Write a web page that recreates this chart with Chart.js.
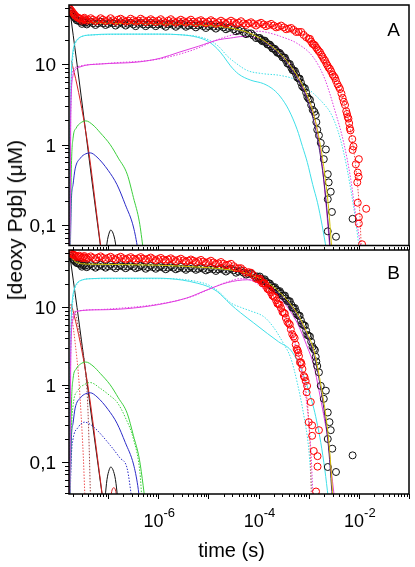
<!DOCTYPE html>
<html>
<head>
<meta charset="utf-8">
<script src="https://cdn.jsdelivr.net/npm/chart.js@4.4.0/dist/chart.umd.min.js"></script>
<style>
  html, body { margin: 0; padding: 0; background: #fff; }
  #wrap { position: relative; width: 415px; height: 567px; overflow: hidden; }
  canvas { position: absolute; left: 0; }
  #chartA { top: 0; }
  #chartB { top: 245px; }
  #ytitle {
    position: absolute; left: 15px; top: 220px;
    transform: translate(-50%, -50%) rotate(-90deg);
    font: 21px "Liberation Sans", Arial, sans-serif;
    white-space: nowrap; color: #000;
  }
</style>
</head>
<body>
<div id="wrap">
  <canvas id="chartA" width="415" height="250"></canvas>
  <canvas id="chartB" width="415" height="322"></canvas>
  <div id="ytitle">[deoxy Pgb] (μM)</div>
</div>
<script>
// axis ranges and tick labels
const xMin = 1.66e-8, xMax = 0.1;
const yLimA = [0.056, 54];
const yLimB = [0.039, 55];
const yTickValues = [0.1, 1, 10];
const yTickLabels = ["0,1", "1", "10"];
const xTickValues = [1e-6, 1e-4, 1e-2];
const xTickExp = ["-6", "-4", "-2"];

// ---- panel A, data points [time, conc]
const redA = [[1.7e-8,49],[1.8e-8,47],[2.0e-8,43],[2.2e-8,40],[2.5e-8,37.5],[2.8e-8,36.5],[3.2e-8,36],[3.5e-8,36],[4e-8,35.5],[5e-8,35.5],[6.3e-8,35],[7.9e-8,35.5],[1e-7,35],[1.26e-7,35],[1.58e-7,35.5],[2e-7,35],[2.5e-7,34.5],[3.2e-7,35],[4e-7,34.5],[5e-7,35],[6.3e-7,34.5],[7.9e-7,34.5],[1e-6,34.5],[1.26e-6,34],[1.58e-6,34.5],[2e-6,34],[2.5e-6,34],[3.2e-6,34],[4e-6,34],[5e-6,33.5],[6.3e-6,34],[7.9e-6,33.5],[1e-5,33.5],[1.26e-5,33.5],[1.58e-5,33],[2e-5,33],[2.5e-5,33],[3.2e-5,33],[4e-5,32.5],[5e-5,32],[6.3e-5,32],[7.9e-5,31.5],[1e-4,31.5],[1.26e-4,31],[1.58e-4,30.5],[2e-4,30],[2.5e-4,29],[3.2e-4,28.5],[4e-4,27.5],[5e-4,26.5],[6.3e-4,25],[7.9e-4,23],[1e-3,20.5],[1.12e-3,19],[1.26e-3,17.5],[1.41e-3,16],[1.58e-3,14.5],[1.78e-3,13],[2e-3,11.5],[2.24e-3,10.2],[2.5e-3,9],[2.8e-3,8.1],[3.2e-3,7],[3.5e-3,6.2],[4e-3,5.2],[4.5e-3,4.3],[5e-3,3.4],[5.6e-3,2.6],[6e-3,2.2],[6.4e-3,1.85],[6.8e-3,1.5],[7.4e-3,1.17],[7.8e-3,0.95],[7.5e-3,0.86],[1.0e-2,0.66],[8.7e-3,0.57],[9.5e-3,0.45],[9.9e-3,0.4],[9.3e-3,0.34],[9.5e-3,0.19],[1.4e-2,0.16],[1.0e-2,0.126],[1.0e-2,0.105],[1.16e-2,0.058]];
const redAMid = [[1.9e-8,45],[2.1e-8,41.5],[2.35e-8,38.5],[2.65e-8,37],[3.0e-8,34.5],[3.35e-8,37.5],[3.75e-8,34.5],[4.5e-8,37],[5.6e-8,34],[7.1e-8,37],[8.9e-8,34],[1.12e-7,37],[1.41e-7,33.5],[1.78e-7,36.5],[2.24e-7,33.5],[2.82e-7,36.5],[3.55e-7,33.5],[4.47e-7,36.5],[5.62e-7,33],[7.08e-7,36],[8.91e-7,33],[1.12e-6,36],[1.41e-6,32.5],[1.78e-6,36],[2.24e-6,32.5],[2.82e-6,35.5],[3.55e-6,32.5],[4.47e-6,35.5],[5.62e-6,32],[7.08e-6,35],[8.91e-6,32],[1.12e-5,35],[1.41e-5,31.5],[1.78e-5,34.5],[2.24e-5,31.5],[2.82e-5,34.5],[3.55e-5,31.5],[4.47e-5,34],[5.62e-5,30.5],[7.08e-5,33],[8.91e-5,30],[1.12e-4,32.5],[1.41e-4,29.5],[1.78e-4,31.5],[2.24e-4,28.5],[2.82e-4,30],[3.55e-4,27],[4.47e-4,28],[5.62e-4,25],[7.08e-4,25],[8.91e-4,21.5],[1.06e-3,20.5],[1.19e-3,17.8],[1.33e-3,17],[1.5e-3,15.2],[1.68e-3,14],[1.89e-3,12.3],[2.12e-3,11],[2.37e-3,9.6],[2.65e-3,8.7],[3.0e-3,7.4],[3.35e-3,6.7],[3.75e-3,5.6],[4.2e-3,4.9],[4.75e-3,3.8],[5.3e-3,3.1],[5.8e-3,2.4],[6.2e-3,2.1],[6.6e-3,1.6]];
const blackA = [[1.7e-8,46],[1.8e-8,44],[2.0e-8,40],[2.2e-8,37],[2.5e-8,34.5],[2.8e-8,33.5],[3.2e-8,33],[3.5e-8,32.5],[4e-8,32.5],[5e-8,32],[6.3e-8,32],[7.9e-8,32],[1e-7,31.5],[1.26e-7,32],[1.58e-7,31.5],[2e-7,31.5],[2.5e-7,31.5],[3.2e-7,31],[4e-7,31.5],[5e-7,31],[6.3e-7,31],[7.9e-7,31],[1e-6,31],[1.26e-6,30.5],[1.58e-6,31],[2e-6,30.5],[2.5e-6,30.5],[3.2e-6,30.5],[4e-6,30],[5e-6,30],[6.3e-6,30],[7.9e-6,29.5],[1e-5,29.5],[1.26e-5,29],[1.58e-5,29],[2e-5,28.5],[2.5e-5,28],[3.2e-5,27],[4e-5,26],[5e-5,25],[6.3e-5,24],[7.9e-5,22.5],[1e-4,21],[1.12e-4,20],[1.26e-4,19.4],[1.41e-4,18.5],[1.58e-4,17.5],[1.78e-4,16.5],[2e-4,15.5],[2.24e-4,14.5],[2.5e-4,13.8],[2.8e-4,13],[3.2e-4,12],[3.5e-4,11.2],[4e-4,10],[4.5e-4,9],[5e-4,8.3],[5.6e-4,7.5],[6.3e-4,6.6],[7e-4,5.9],[7.9e-4,5.1],[8.9e-4,4.4],[1e-3,3.7],[1.12e-3,3.1],[1.2e-3,2.7],[1.38e-3,2.33],[1.48e-3,1.53],[1.74e-3,1.05],[2.2e-3,0.87],[2.0e-3,0.66],[2.4e-3,0.43],[2.5e-3,0.34],[2.75e-3,0.26],[2.4e-3,0.21],[2.9e-3,0.146],[2.4e-3,0.084],[3.5e-3,0.072],[7.5e-3,0.12]];
const blackAMid = [[1.9e-8,42],[2.1e-8,38.5],[2.35e-8,35],[2.65e-8,34.5],[3.0e-8,31.5],[3.35e-8,34],[3.75e-8,31],[4.5e-8,33.5],[5.6e-8,30.5],[7.1e-8,33.5],[8.9e-8,30.5],[1.12e-7,33],[1.41e-7,30],[1.78e-7,33],[2.24e-7,30],[2.82e-7,32.5],[3.55e-7,29.5],[4.47e-7,32.5],[5.62e-7,29.5],[7.08e-7,32.5],[8.91e-7,29.5],[1.12e-6,32],[1.41e-6,29],[1.78e-6,32],[2.24e-6,29],[2.82e-6,32],[3.55e-6,29],[4.47e-6,31.5],[5.62e-6,28.5],[7.08e-6,31],[8.91e-6,28],[1.12e-5,30.5],[1.41e-5,27.5],[1.78e-5,30],[2.24e-5,27],[2.82e-5,29],[3.55e-5,25.5],[4.47e-5,27],[5.62e-5,23.5],[7.08e-5,24],[8.91e-5,21],[1.06e-4,21],[1.19e-4,19.2],[1.33e-4,19.5],[1.5e-4,17.5],[1.68e-4,17.4],[1.89e-4,15.6],[2.12e-4,15.4],[2.37e-4,13.8],[2.65e-4,13.7],[3.0e-4,12.1],[3.35e-4,12],[3.75e-4,10.2],[4.2e-4,10],[4.75e-4,8.4],[5.3e-4,8.2],[5.9e-4,6.8],[6.6e-4,6.6],[7.4e-4,5.3],[8.4e-4,5.0],[9.4e-4,3.9],[1.06e-3,3.6],[1.3e-3,2.55],[1.42e-3,1.9],[1.6e-3,1.3]];
const yellowA = [[1.7e-8,46],[2.2e-8,37],[3e-8,33.5],[5e-8,32.5],[1e-6,31.5],[1e-5,30],[2.75e-5,28],[6.3e-5,24.5],[1.26e-4,19.6],[2.75e-4,13.3],[5e-4,8.4],[7.4e-4,5.6],[1e-3,3.7],[1.3e-3,2.2],[1.7e-3,1.0],[2.1e-3,0.42],[2.5e-3,0.16],[2.85e-3,0.056]];
const purpleA = [[1.26e-4,19],[2.75e-4,12.8],[5e-4,7.8],[7.4e-4,5.1],[1e-3,3.2],[1.3e-3,1.8],[1.7e-3,0.75],[2.1e-3,0.28],[2.5e-3,0.09],[2.7e-3,0.05]];
const redFitA = [[1.7e-8,49],[2.5e-8,37.5],[5e-8,35.5],[1e-6,34.5],[1e-5,33.5],[1e-4,31.5],[5e-4,26.5],[1e-3,20.5],[2e-3,11.5],[3.2e-3,7],[5e-3,3.4],[6.4e-3,1.85],[8e-3,0.8],[9.5e-3,0.3],[1.05e-2,0.13],[1.12e-2,0.05]];
const cyanA = [[1.72e-8,0.05],[1.76e-8,1.5],[1.8e-8,4],[1.85e-8,8],[1.95e-8,13],[2.1e-8,17],[2.4e-8,20],[3e-8,22],[5e-8,23],[1e-7,23.5],[1e-6,23.5],[3e-6,23],[6e-6,21.5],[1e-5,19],[1.5e-5,15.5],[2e-5,12.5],[2.75e-5,9.5],[4e-5,7.5],[7e-5,6.3],[1.26e-4,5.7],[2e-4,4.8],[2.75e-4,3.9],[4e-4,2.7],[5.9e-4,1.53],[7.5e-4,0.95],[9.4e-4,0.6],[1.2e-3,0.32],[1.5e-3,0.19],[1.85e-3,0.1],[2.25e-3,0.05]];
const cyanDotA = [[1.72e-8,0.05],[1.75e-8,1],[1.8e-8,3],[1.85e-8,6],[1.95e-8,11],[2.1e-8,16],[2.4e-8,19.5],[3e-8,22],[5e-8,23],[1e-6,23.5],[3e-6,23],[6e-6,22],[1e-5,20],[1.6e-5,16.5],[2.4e-5,12.5],[3.5e-5,10.3],[6e-5,8.3],[1.2e-4,7.6],[2.75e-4,7.2],[5.9e-4,6.25],[1.25e-3,4.3],[2e-3,3.2],[2.75e-3,2.45],[3.8e-3,1.5],[5e-3,0.79],[6.9e-3,0.28],[8.7e-3,0.11],[1.02e-2,0.05]];
const magA = [[1.72e-8,0.05],[1.76e-8,0.22],[1.8e-8,2],[1.85e-8,4.5],[1.95e-8,6.6],[2.1e-8,8],[2.75e-8,9.2],[7e-8,10],[4e-7,10.6],[1.1e-6,11.8],[2.6e-6,14],[6.3e-6,16.6],[1.6e-5,20],[2.75e-5,21],[5e-5,22],[8e-5,21.5],[1.26e-4,19.4],[2e-4,17],[2.75e-4,15],[4e-4,11],[5.9e-4,7.5],[8e-4,4.8],[1.25e-3,2.45],[1.74e-3,0.79],[2.2e-3,0.19],[2.65e-3,0.05]];
const magDotA = [[1.72e-8,0.05],[1.77e-8,1],[1.82e-8,4.5],[1.95e-8,8],[2.5e-8,9.3],[1e-7,10.2],[1e-6,11.5],[5e-6,15],[1.5e-5,20],[4e-5,24],[1e-4,25.5],[2e-4,23.5],[2.75e-4,22],[5.9e-4,18],[1.25e-3,12],[2.1e-3,6.5],[3.3e-3,2.7],[5e-3,1.05],[6.9e-3,0.37],[8.7e-3,0.13],[1.12e-2,0.05]];

// ---- panel B, data points [time, conc]
const redB = [[1.7e-8,51],[1.8e-8,50],[2.0e-8,48],[2.2e-8,46.5],[2.5e-8,45.5],[2.8e-8,45],[3.2e-8,44.5],[3.5e-8,44],[4e-8,44],[5e-8,43.5],[6.3e-8,44],[7.9e-8,43.5],[1e-7,43.5],[1.26e-7,43],[1.58e-7,43.5],[2e-7,43],[2.5e-7,43],[3.2e-7,42.5],[4e-7,43],[5e-7,42.5],[6.3e-7,42.5],[7.9e-7,42],[1e-6,42],[1.26e-6,41.5],[1.58e-6,41.5],[2e-6,41],[2.5e-6,41],[3.2e-6,40.5],[4e-6,40],[5e-6,40],[6.3e-6,39.5],[7.9e-6,39],[1e-5,38.5],[1.26e-5,38],[1.58e-5,37],[2e-5,36.5],[2.5e-5,35.5],[3.2e-5,34],[4e-5,32],[5e-5,30],[6.3e-5,28.5],[7.9e-5,26],[1e-4,23],[1.12e-4,22],[1.26e-4,20.5],[1.41e-4,19],[1.58e-4,17],[1.78e-4,15.5],[2e-4,13.8],[2.24e-4,12.3],[2.5e-4,11],[2.8e-4,9.8],[3.2e-4,8.5],[3.5e-4,7.3],[4e-4,6.2],[4.4e-4,5.2],[5e-4,4.2],[5.5e-4,3.3],[6e-4,2.8],[6.4e-4,2.35],[7e-4,1.95],[7.5e-4,1.6],[8.7e-4,1.12],[9.3e-4,0.97],[9.1e-4,0.8],[1.1e-3,0.6],[1.0e-3,0.33],[1.17e-3,0.3],[1.6e-3,0.26],[1.17e-3,0.22],[1.26e-3,0.14],[1.5e-3,0.12],[1.5e-3,0.088],[1.4e-3,0.042]];
const redBMid = [[1.9e-8,49],[2.1e-8,47.5],[2.35e-8,44.5],[2.65e-8,46.5],[3.0e-8,43],[3.35e-8,46],[3.75e-8,42.5],[4.5e-8,45.5],[5.6e-8,42],[7.1e-8,45.5],[8.9e-8,42],[1.12e-7,45],[1.41e-7,41.5],[1.78e-7,45],[2.24e-7,41.5],[2.82e-7,44.5],[3.55e-7,41],[4.47e-7,44.5],[5.62e-7,41],[7.08e-7,44],[8.91e-7,40.5],[1.12e-6,43.5],[1.41e-6,40],[1.78e-6,43],[2.24e-6,39.5],[2.82e-6,42.5],[3.55e-6,39],[4.47e-6,41.5],[5.62e-6,38.5],[7.08e-6,41],[8.91e-6,37.5],[1.12e-5,40],[1.41e-5,36.5],[1.78e-5,38.5],[2.24e-5,35],[2.82e-5,36.5],[3.55e-5,32],[4.47e-5,32],[5.62e-5,28],[7.08e-5,28],[8.91e-5,23.5],[1.06e-4,23.5],[1.19e-4,20.5],[1.33e-4,20.5],[1.5e-4,17.4],[1.68e-4,16.8],[1.89e-4,14.2],[2.12e-4,13.6],[2.37e-4,11.2],[2.65e-4,10.8],[3.0e-4,8.7],[3.35e-4,8.3],[3.75e-4,6.5],[4.2e-4,6.0],[4.7e-4,4.5],[5.25e-4,4.0],[5.75e-4,2.9],[6.2e-4,2.6],[6.7e-4,1.95],[7.2e-4,1.85],[8e-4,1.3],[8.3e-4,1.25]];
const blackB = [[1.7e-8,47],[1.8e-8,46],[2.0e-8,42],[2.2e-8,39],[2.5e-8,37],[2.8e-8,35.5],[3.2e-8,35],[3.5e-8,34.5],[4e-8,34.5],[5e-8,34],[6.3e-8,34],[7.9e-8,34],[1e-7,34],[1.26e-7,33.5],[1.58e-7,34],[2e-7,33.5],[2.5e-7,33.5],[3.2e-7,33.5],[4e-7,33],[5e-7,33.5],[6.3e-7,33],[7.9e-7,33],[1e-6,33],[1.26e-6,32.5],[1.58e-6,32.5],[2e-6,32.5],[2.5e-6,32],[3.2e-6,32],[4e-6,32],[5e-6,32],[6.3e-6,31.5],[7.9e-6,31.5],[1e-5,31],[1.26e-5,31],[1.58e-5,31],[2e-5,30.5],[2.5e-5,30.5],[3.2e-5,30],[4e-5,29],[5e-5,28],[6.3e-5,27],[7.9e-5,26],[9.5e-5,25],[1.12e-4,23.5],[1.26e-4,22.5],[1.41e-4,21.5],[1.58e-4,20.5],[1.78e-4,19],[2e-4,18],[2.24e-4,17],[2.5e-4,16],[2.75e-4,15.3],[3.2e-4,14],[3.5e-4,13],[4e-4,12],[4.5e-4,10.8],[5e-4,9.8],[5.6e-4,8.8],[6.3e-4,7.8],[7e-4,6.8],[7.9e-4,5.9],[8.9e-4,5],[1e-3,4.3],[1.12e-3,3.6],[1.27e-3,2.9],[1.38e-3,2.3],[1.48e-3,1.75],[1.74e-3,0.97],[2.2e-3,0.84],[2.0e-3,0.66],[2.4e-3,0.44],[2.6e-3,0.33],[2.75e-3,0.26],[2.4e-3,0.2],[2.95e-3,0.15],[2.4e-3,0.087],[3.5e-3,0.075],[7.5e-3,0.123]];
const blackBMid = [[1.9e-8,44],[2.1e-8,40.5],[2.35e-8,37.5],[2.65e-8,37],[3.0e-8,33.5],[3.35e-8,36.5],[3.75e-8,33],[4.5e-8,36],[5.6e-8,32.5],[7.1e-8,35.5],[8.9e-8,32.5],[1.12e-7,35.5],[1.41e-7,32],[1.78e-7,35],[2.24e-7,32],[2.82e-7,35],[3.55e-7,32],[4.47e-7,34.5],[5.62e-7,31.5],[7.08e-7,34.5],[8.91e-7,31.5],[1.12e-6,34],[1.41e-6,31],[1.78e-6,34],[2.24e-6,31],[2.82e-6,33.5],[3.55e-6,30.5],[4.47e-6,33.5],[5.62e-6,30.5],[7.08e-6,33],[8.91e-6,30],[1.12e-5,32.5],[1.41e-5,29.5],[1.78e-5,32],[2.24e-5,29],[2.82e-5,31.5],[3.55e-5,28],[4.47e-5,30],[5.62e-5,26.5],[7.08e-5,27.5],[8.91e-5,24.5],[1.06e-4,25],[1.19e-4,22],[1.33e-4,23],[1.5e-4,20.2],[1.68e-4,20.3],[1.89e-4,18],[2.12e-4,18.2],[2.37e-4,16],[2.65e-4,16.2],[3.0e-4,14.1],[3.35e-4,14.2],[3.75e-4,12.1],[4.2e-4,12],[4.75e-4,9.9],[5.3e-4,9.8],[5.9e-4,8.1],[6.6e-4,7.8],[7.4e-4,6.1],[8.4e-4,5.8],[9.4e-4,4.4],[1.06e-3,4.2],[1.19e-3,3.1],[1.33e-3,2.8],[1.42e-3,2.0],[1.6e-3,1.45]];
const yellowB = [[1.7e-8,47],[2.2e-8,39],[3e-8,36.5],[5e-8,36],[1e-6,35],[1e-5,32.5],[2.75e-5,30.5],[6.3e-5,27],[1.26e-4,22.5],[2.75e-4,15.3],[5.9e-4,8.3],[9.4e-4,4.6],[1.27e-3,2.8],[1.5e-3,1.7],[1.8e-3,0.9],[2.2e-3,0.4],[2.6e-3,0.15],[3.05e-3,0.035]];
const purpleB = [[1.26e-4,21],[2.75e-4,14.3],[5.9e-4,7.8],[9.4e-4,4.2],[1.27e-3,2.4],[1.6e-3,1.2],[2e-3,0.5],[2.5e-3,0.15],[2.95e-3,0.035]];
const redFitB = [[1.7e-8,51],[2.5e-8,45.5],[1e-7,43.5],[1e-6,42],[1e-5,38.5],[5e-5,30],[1e-4,23],[2e-4,13.8],[3.2e-4,8.5],[4.4e-4,5.2],[6.4e-4,2.35],[8.7e-4,0.9],[1e-3,0.35],[1.08e-3,0.12],[1.13e-3,0.035]];
const cyanB = [[1.72e-8,0.035],[1.76e-8,1.5],[1.8e-8,4],[1.85e-8,8],[1.95e-8,13],[2.1e-8,17],[2.4e-8,20.5],[3e-8,22.5],[5e-8,23.5],[1e-7,23.8],[1e-6,23.8],[3e-6,22.5],[6e-6,20.5],[1e-5,18.5],[1.5e-5,16],[2e-5,13.5],[2.75e-5,11],[4.4e-5,8.5],[8e-5,6.3],[1.5e-4,4.6],[2.5e-4,3.6],[4.4e-4,2.8],[6e-4,2],[8e-4,1.3],[1.05e-3,0.75],[1.27e-3,0.49],[1.5e-3,0.3],[1.74e-3,0.18],[2.1e-3,0.08],[2.45e-3,0.035]];
const cyanDotB = [[1.72e-8,0.035],[1.75e-8,1],[1.8e-8,3],[1.85e-8,6],[1.95e-8,11],[2.1e-8,16],[2.4e-8,20],[3e-8,22.5],[5e-8,23.5],[1e-6,23.5],[3e-6,23],[6e-6,21.5],[1e-5,19.5],[1.6e-5,16],[2.75e-5,11.5],[4.4e-5,10],[6.9e-5,9],[1.3e-4,7.5],[2e-4,5.5],[3e-4,3.6],[4.4e-4,2.2],[5.9e-4,1.07],[8e-4,0.4],[1e-3,0.15],[1.18e-3,0.035]];
const magB = [[1.72e-8,0.035],[1.76e-8,0.3],[1.8e-8,2],[1.85e-8,4.5],[2.0e-8,7],[2.4e-8,8.9],[7e-8,9.3],[3.2e-7,9.8],[1.5e-6,11.4],[3.7e-6,13.2],[9.4e-6,16.8],[2.4e-5,20.9],[6e-5,22.7],[1.28e-4,19.5],[2.75e-4,13],[5.9e-4,6.3],[9e-4,3.3],[1.27e-3,1.75],[1.6e-3,0.85],[2e-3,0.4],[2.4e-3,0.2],[2.75e-3,0.09],[3.25e-3,0.035]];
const magDotB = [[1.72e-8,0.035],[1.77e-8,1],[1.82e-8,4.5],[1.95e-8,8],[2.5e-8,9],[1e-7,9.5],[1e-6,11],[5e-6,14],[1e-5,17],[2.5e-5,21.5],[4.4e-5,23.5],[7e-5,22.5],[1.28e-4,17],[2e-4,11.5],[3e-4,7.5],[4.4e-4,4.7],[6.9e-4,1.75],[9.4e-4,0.49],[1.1e-3,0.15],[1.22e-3,0.035]];
const greenDotB = [[1.74e-8,0.03],[1.85e-8,0.25],[2e-8,0.54],[2.5e-8,0.85],[3.3e-8,1.0],[4.4e-8,1.07],[7e-8,0.9],[1.1e-7,0.72],[1.5e-7,0.6],[2.2e-7,0.38],[3.2e-7,0.2],[4.3e-7,0.075],[4.7e-7,0.035]];
const blueDotB = [[1.74e-8,0.03],[1.85e-8,0.12],[2e-8,0.2],[2.5e-8,0.28],[3.4e-8,0.33],[5e-8,0.29],[1.1e-7,0.166],[1.7e-7,0.115],[2.4e-7,0.083],[2.95e-7,0.035]];
const redDotSteepB = [[1.75e-8,11],[2.2e-8,3.5],[2.6e-8,1.2],[2.9e-8,0.4],[3.2e-8,0.12],[3.45e-8,0.035]];
const brownDotB = [[2.2e-8,9],[2.8e-8,4],[3.5e-8,1.6],[3.9e-8,0.6],[4.2e-8,0.15],[4.45e-8,0.035]];
const redHumpB = [[1.12e-7,0.035],[1.2e-7,0.044],[1.3e-7,0.047],[1.4e-7,0.044],[1.5e-7,0.035]];

// ---- shared early-time curves (both panels)
const blackSteep = [[1.7e-8,50],[2.4e-8,10],[3.5e-8,1.6],[5e-8,0.28],[8e-8,0.03]];
const redSteep = [[1.85e-8,11],[2.4e-8,5.5],[3.2e-8,2.2],[4.2e-8,0.75],[5.5e-8,0.2],[8e-8,0.03]];
const greenSolid = [[1.74e-8,0.03],[1.85e-8,0.5],[2.0e-8,1.2],[2.3e-8,1.6],[2.8e-8,1.85],[3.6e-8,1.97],[5e-8,1.75],[7e-8,1.4],[1.1e-7,1.0],[1.6e-7,0.68],[2.4e-7,0.43],[3.2e-7,0.22],[4.2e-7,0.11],[5e-7,0.05],[5.5e-7,0.03]];
const blueSolid = [[1.74e-8,0.03],[1.85e-8,0.2],[2e-8,0.32],[2.2e-8,0.5],[2.8e-8,0.68],[3.6e-8,0.77],[4.4e-8,0.79],[6e-8,0.7],[1e-7,0.48],[1.5e-7,0.32],[2.2e-7,0.18],[3.2e-7,0.095],[3.9e-7,0.05],[4.3e-7,0.03]];
const blackHump = [[8.7e-8,0.035],[9.5e-8,0.06],[1.05e-7,0.08],[1.13e-7,0.087],[1.25e-7,0.08],[1.4e-7,0.06],[1.55e-7,0.035]];

const FONT = '"Liberation Sans", Arial, sans-serif';

const toXY = (arr) => arr.map(([x, y]) => ({ x, y }));

const circles = (data, color) => ({
  data: toXY(data),
  showLine: false,
  pointRadius: 3.5,
  pointHoverRadius: 3.5,
  pointBorderWidth: 1,
  pointBorderColor: color,
  pointBackgroundColor: "rgba(0,0,0,0)",
  borderColor: color,
  backgroundColor: "rgba(0,0,0,0)",
});

const curve = (data, color, dotted) => ({
  data: toXY(data),
  showLine: true,
  pointRadius: 0,
  borderWidth: 1,
  borderColor: color,
  borderDash: dotted ? [1.5, 1.5] : [],
  cubicInterpolationMode: "monotone",
  fill: false,
});

const C = {
  red: "#ff0000", black: "#111111", cyan: "#3fdfe8", magenta: "#e03ce0",
  green: "#3ccf3c", blue: "#2b2bc8", yellow: "#d4c400", purple: "#4a1a78",
  redLine: "#d42020", redDot: "#f05050", brown: "#a04848",
};

const frame = {
  id: "frame",
  afterDatasetsDraw(chart, args, opts) {
    const { ctx, chartArea: { left, right, top, bottom }, scales: { x, y } } = chart;
    ctx.save();
    ctx.strokeStyle = "#000";
    ctx.fillStyle = "#000";
    ctx.lineWidth = 1.5;
    ctx.strokeRect(left, top, right - left, bottom - top);

    ctx.lineWidth = 1;
    ctx.beginPath();
    for (let e = -3; e <= 2; e++) {
      for (let m = 1; m <= 9; m++) {
        const v = m * Math.pow(10, e);
        if (v < y.min || v > y.max) continue;
        const py = Math.round(y.getPixelForValue(v)) + 0.5;
        const len = m === 1 ? 7 : 4;
        ctx.moveTo(left - len, py);
        ctx.lineTo(left, py);
      }
    }
    if (opts.xTicks) {
      for (let e = -8; e <= -1; e++) {
        for (let m = 1; m <= 9; m++) {
          const v = m * Math.pow(10, e);
          if (v < x.min || v > x.max * 1.0001) continue;
          const px = Math.round(x.getPixelForValue(v)) + 0.5;
          const len = m === 1 ? 5 : 3;
          ctx.moveTo(px, bottom);
          ctx.lineTo(px, bottom + len);
          ctx.moveTo(px, top);
          ctx.lineTo(px, top - len);
        }
      }
    }
    ctx.stroke();

    ctx.font = "19px " + FONT;
    ctx.textAlign = "right";
    ctx.textBaseline = "alphabetic";
    yTickValues.forEach((v, i) => {
      ctx.fillText(yTickLabels[i], left - 13, y.getPixelForValue(v) + 7);
    });

    ctx.textAlign = "center";
    ctx.fillText(opts.letter, 393.5, top + opts.letterDy);

    if (opts.xLabels) {
      ctx.textAlign = "left";
      xTickValues.forEach((v, i) => {
        const px = x.getPixelForValue(v) + 1;
        ctx.font = "18px " + FONT;
        const wBase = ctx.measureText("10").width;
        ctx.font = "13px " + FONT;
        const wExp = ctx.measureText(xTickExp[i]).width;
        const x0 = px - (wBase + wExp) / 2;
        ctx.font = "18px " + FONT;
        ctx.fillText("10", x0, bottom + 33);
        ctx.font = "13px " + FONT;
        ctx.fillText(xTickExp[i], x0 + wBase, bottom + 23);
      });
      ctx.font = "20px " + FONT;
      ctx.textAlign = "center";
      ctx.fillText("time (s)", 231.5, bottom + 63);
    }
    ctx.restore();
  },
};

const makeChart = (id, datasets, yLim, xHeight, frameOpts) => {
  return new Chart(document.getElementById(id), {
    type: "scatter",
    data: { datasets },
    options: {
      responsive: false,
      animation: false,
      devicePixelRatio: 1,
      layout: { padding: { top: 5, right: 6, bottom: 0, left: 0 } },
      scales: {
        x: {
          type: "logarithmic",
          min: xMin,
          max: xMax,
          ticks: { display: false },
          grid: { display: false },
          border: { display: false },
          afterFit: (s) => { s.height = xHeight; },
        },
        y: {
          type: "logarithmic",
          min: yLim[0],
          max: yLim[1],
          ticks: { display: false },
          grid: { display: false },
          border: { display: false },
          afterFit: (s) => { s.width = 69; },
        },
      },
      plugins: {
        legend: { display: false },
        tooltip: { enabled: false },
        frame: frameOpts,
      },
    },
    plugins: [frame],
  });
};

makeChart("chartA", [
  circles(redA.concat(redAMid), C.red),
  curve(yellowA, C.yellow, false),
  curve(purpleA, C.purple, false),
  circles(blackA.concat(blackAMid), C.black),
  curve(redFitA, C.redDot, true),
  curve(magDotA, C.magenta, true),
  curve(magA, C.magenta, false),
  curve(cyanDotA, C.cyan, true),
  curve(cyanA, C.cyan, false),
  curve(greenSolid, C.green, false),
  curve(blueSolid, C.blue, false),
  curve(redSteep, C.redLine, false),
  curve(blackSteep, C.black, false),
  curve(blackHump, C.black, false),
], yLimA, 1, { xTicks: false, xLabels: false, letter: "A", letterDy: 31 });

makeChart("chartB", [
  circles(redB.concat(redBMid), C.red),
  curve(yellowB, C.yellow, false),
  curve(purpleB, C.purple, false),
  circles(blackB.concat(blackBMid), C.black),
  curve(redFitB, C.redDot, true),
  curve(magDotB, C.magenta, true),
  curve(magB, C.magenta, false),
  curve(cyanDotB, C.cyan, true),
  curve(cyanB, C.cyan, false),
  curve(greenSolid, C.green, false),
  curve(blueSolid, C.blue, false),
  curve(greenDotB, C.green, true),
  curve(blueDotB, C.blue, true),
  curve(redDotSteepB, C.redDot, true),
  curve(brownDotB, C.brown, true),
  curve(redSteep, C.redLine, false),
  curve(blackSteep, C.black, false),
  curve(blackHump, C.black, false),
  curve(redHumpB, C.redLine, false),
], yLimB, 73, { xTicks: true, xLabels: true, letter: "B", letterDy: 29 });
</script>
</body>
</html>
